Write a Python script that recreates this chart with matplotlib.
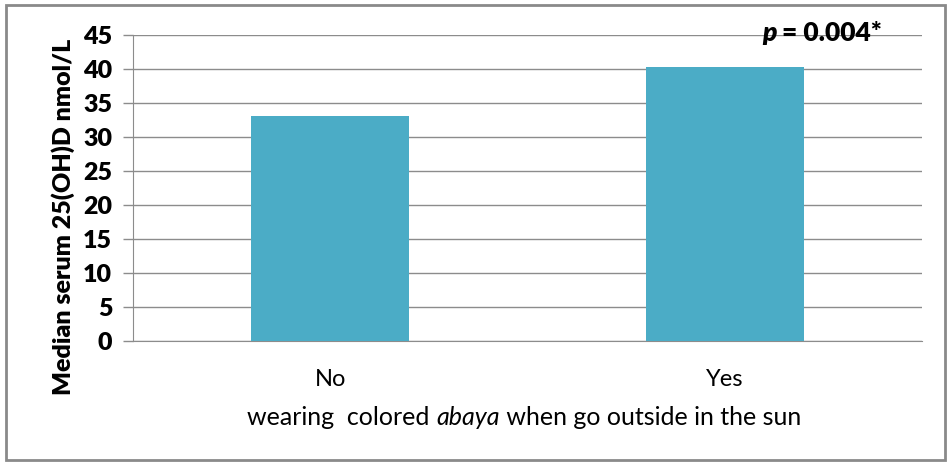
import matplotlib
matplotlib.use('Agg')
import matplotlib.pyplot as plt
from matplotlib.patches import Rectangle

# median serum 25(OH)D by abaya colour
categories = ['No', 'Yes']
medians = [33.1, 40.3]
y_ticks = [0, 5, 10, 15, 20, 25, 30, 35, 40, 45]
p_label = '= 0.004*'

bar_color = '#4BACC6'
grid_color = '#8c8c8c'
plt.rcParams['font.family'] = ['Lato', 'DejaVu Sans']

fig = plt.figure(figsize=(9.51, 4.63), dpi=100)
ax = fig.add_axes([0.1399, 0.2635, 0.8296, 0.6609])

x = range(len(categories))
ax.bar(x, medians, width=0.4, color=bar_color, zorder=3)

ax.set_xlim(-0.5, 1.5)
ax.set_ylim(0, 45)
ax.set_yticks(y_ticks)
ax.set_yticklabels([str(t) for t in y_ticks], fontsize=18, fontweight='heavy')
ax.set_xticks(list(x))
ax.set_xticklabels(categories, fontsize=17)
ax.tick_params(axis='x', length=0, pad=20)
ax.tick_params(axis='y', length=7, width=1, color=grid_color, pad=8)

ax.grid(axis='y', color=grid_color, linewidth=1, zorder=0)
for side in ['top', 'right']:
    ax.spines[side].set_visible(False)
ax.spines['left'].set_color(grid_color)
ax.spines['bottom'].set_color(grid_color)

ax.set_ylabel('Median serum 25(OH)D nmol/L', fontsize=18, fontweight='heavy')
ax.yaxis.set_label_coords(-0.073, 0.405)

# x label with italic "abaya"
xl = fig.text(0.26, 0.082, 'wearing  colored ', fontsize=18, va='baseline')
xl2 = ax.annotate('abaya', xy=(1, 0), xycoords=xl, fontsize=18, style='italic', va='bottom')
ax.annotate(' when go outside in the sun', xy=(1, 0), xycoords=xl2, fontsize=18, va='bottom')

# significance marker
pt = ax.text(1.094, 45.3, 'p ', fontsize=19, fontweight='heavy', style='italic', va='center')
ax.annotate(p_label, xy=(1, 0.5), xycoords=pt, fontsize=19, fontweight='heavy', va='center')

# outer frame
fig.patches.append(Rectangle((0.006, 0.006), 0.988, 0.983, transform=fig.transFigure,
                             fill=False, edgecolor='#8a8a8a', linewidth=2))

fig.savefig('out.png', dpi=100)
